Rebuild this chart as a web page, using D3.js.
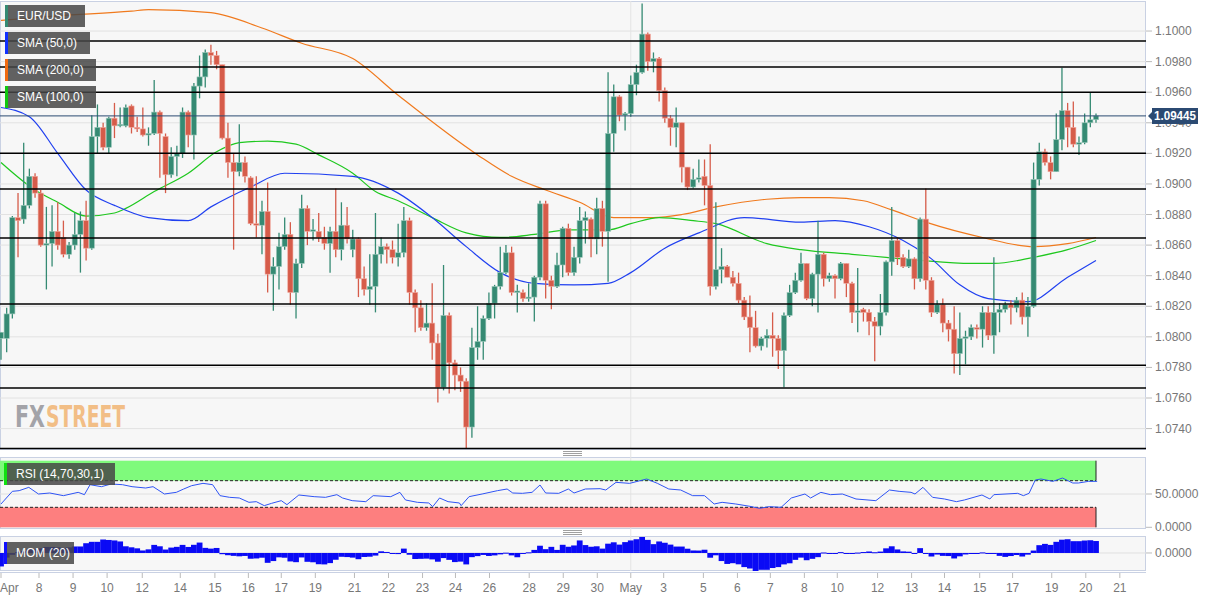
<!DOCTYPE html>
<html><head><meta charset="utf-8">
<script src="https://cdn.jsdelivr.net/npm/d3@7"></script>
<style>body{margin:0;background:#fff;}svg{display:block;font-family:"Liberation Sans",Arial,sans-serif;}</style>
</head><body><svg id="chart" width="1217" height="600"></svg>
<script>
// 4h candles EUR/USD: [open, high, low, close]
const ohlc = [
[1.0799,1.0803,1.0785,1.0803],[1.0799,1.0819,1.0790,1.0815],[1.0815,1.0879,1.0812,1.0878],[1.0878,1.0894,1.0852,1.0876],
[1.0877,1.0927,1.0874,1.0886],[1.0886,1.0910,1.0884,1.0905],[1.0905,1.0907,1.0891,1.0894],[1.0894,1.0896,1.0859,1.0860],
[1.0860,1.0885,1.0831,1.0861],[1.0861,1.0886,1.0846,1.0869],[1.0869,1.0888,1.0857,1.0860],[1.0865,1.0876,1.0852,1.0854],
[1.0854,1.0862,1.0851,1.0860],[1.0860,1.0881,1.0857,1.0867],[1.0867,1.0882,1.0842,1.0876],[1.0876,1.0889,1.0850,1.0858],
[1.0858,1.0945,1.0857,1.0931],[1.0931,1.0952,1.0920,1.0937],[1.0937,1.0940,1.0922,1.0924],[1.0924,1.0944,1.0920,1.0943],
[1.0943,1.0953,1.0930,1.0938],[1.0938,1.0950,1.0937,1.0939],[1.0938,1.0952,1.0937,1.0950],[1.0951,1.0952,1.0933,1.0937],
[1.0937,1.0944,1.0934,1.0936],[1.0936,1.0950,1.0931,1.0932],[1.0932,1.0937,1.0925,1.0933],[1.0933,1.0968,1.0932,1.0947],
[1.0947,1.0948,1.0904,1.0933],[1.0931,1.0933,1.0894,1.0906],[1.0906,1.0924,1.0904,1.0918],[1.0918,1.0925,1.0905,1.0920],
[1.0920,1.0950,1.0917,1.0947],[1.0947,1.0948,1.0924,1.0932],[1.0932,1.0966,1.0916,1.0964],[1.0964,1.0984,1.0956,1.0970],
[1.0970,1.0988,1.0963,1.0986],[1.0986,1.0991,1.0978,1.0984],[1.0984,1.0987,1.0975,1.0978],[1.0978,1.0978,1.0929,1.0930],
[1.0930,1.0940,1.0904,1.0914],[1.0914,1.0920,1.0857,1.0908],[1.0908,1.0939,1.0905,1.0914],[1.0914,1.0918,1.0901,1.0905],
[1.0904,1.0905,1.0873,1.0874],[1.0874,1.0905,1.0865,1.0873],[1.0873,1.0889,1.0854,1.0882],[1.0882,1.0901,1.0829,1.0841],
[1.0841,1.0852,1.0817,1.0846],[1.0846,1.0868,1.0831,1.0859],[1.0859,1.0878,1.0857,1.0867],[1.0867,1.0875,1.0821,1.0829],
[1.0829,1.0851,1.0812,1.0848],[1.0848,1.0893,1.0845,1.0884],[1.0884,1.0886,1.0860,1.0869],[1.0869,1.0877,1.0863,1.0870],
[1.0869,1.0881,1.0862,1.0865],[1.0865,1.0872,1.0857,1.0861],[1.0861,1.0872,1.0842,1.0869],[1.0869,1.0897,1.0852,1.0857],
[1.0857,1.0888,1.0850,1.0873],[1.0873,1.0885,1.0861,1.0864],[1.0857,1.0870,1.0852,1.0864],[1.0864,1.0865,1.0826,1.0838],
[1.0838,1.0846,1.0827,1.0831],[1.0831,1.0854,1.0821,1.0833],[1.0833,1.0881,1.0816,1.0854],[1.0854,1.0865,1.0848,1.0859],
[1.0859,1.0861,1.0848,1.0857],[1.0857,1.0863,1.0848,1.0852],[1.0852,1.0874,1.0846,1.0855],[1.0855,1.0885,1.0852,1.0876],
[1.0876,1.0878,1.0821,1.0829],[1.0829,1.0831,1.0803,1.0819],[1.0819,1.0824,1.0804,1.0806],[1.0806,1.0822,1.0804,1.0809],
[1.0809,1.0835,1.0785,1.0796],[1.0796,1.0802,1.0757,1.0767],[1.0767,1.0847,1.0765,1.0814],[1.0814,1.0816,1.0763,1.0783],
[1.0783,1.0785,1.0765,1.0775],[1.0775,1.0780,1.0764,1.0771],[1.0771,1.0773,1.0727,1.0741],[1.0741,1.0806,1.0734,1.0793],
[1.0793,1.0820,1.0785,1.0797],[1.0797,1.0814,1.0785,1.0812],[1.0812,1.0829,1.0811,1.0822],[1.0822,1.0834,1.0812,1.0833],
[1.0833,1.0859,1.0831,1.0842],[1.0842,1.0860,1.0841,1.0855],[1.0855,1.0859,1.0827,1.0829],[1.0829,1.0834,1.0816,1.0830],
[1.0829,1.0831,1.0823,1.0825],[1.0825,1.0835,1.0823,1.0826],[1.0826,1.0840,1.0810,1.0839],[1.0839,1.0889,1.0837,1.0887],
[1.0887,1.0889,1.0825,1.0837],[1.0837,1.0840,1.0818,1.0833],[1.0833,1.0855,1.0832,1.0847],[1.0847,1.0872,1.0839,1.0871],
[1.0871,1.0874,1.0840,1.0842],[1.0842,1.0859,1.0840,1.0852],[1.0852,1.0885,1.0848,1.0876],[1.0876,1.0882,1.0861,1.0878],
[1.0877,1.0878,1.0852,1.0864],[1.0864,1.0891,1.0854,1.0884],[1.0884,1.0889,1.0859,1.0869],[1.0869,1.0973,1.0836,1.0933],
[1.0933,1.0965,1.0921,1.0957],[1.0957,1.0958,1.0941,1.0945],[1.0945,1.0947,1.0935,1.0946],[1.0946,1.0971,1.0944,1.0965],
[1.0965,1.0978,1.0958,1.0973],[1.0973,1.1018,1.0972,1.0998],[1.0998,1.0999,1.0974,1.0980],[1.0980,1.0986,1.0973,1.0982],
[1.0982,1.0983,1.0954,1.0961],[1.0961,1.0963,1.0940,1.0943],[1.0943,1.0945,1.0925,1.0937],[1.0937,1.0950,1.0924,1.0940],
[1.0940,1.0940,1.0901,1.0911],[1.0911,1.0911,1.0896,1.0898],[1.0898,1.0910,1.0897,1.0903],[1.0903,1.0916,1.0901,1.0904],
[1.0905,1.0916,1.0886,1.0899],[1.0899,1.0926,1.0827,1.0833],[1.0833,1.0888,1.0831,1.0844],[1.0844,1.0858,1.0835,1.0846],
[1.0846,1.0847,1.0839,1.0839],[1.0839,1.0843,1.0833,1.0835],[1.0835,1.0842,1.0822,1.0824],[1.0824,1.0826,1.0811,1.0813],
[1.0813,1.0827,1.0790,1.0806],[1.0806,1.0817,1.0793,1.0794],[1.0794,1.0800,1.0791,1.0799],[1.0799,1.0805,1.0793,1.0801],
[1.0801,1.0816,1.0787,1.0799],[1.0799,1.0801,1.0779,1.0791],[1.0791,1.0816,1.0767,1.0814],[1.0814,1.0834,1.0813,1.0829],
[1.0829,1.0842,1.0828,1.0837],[1.0837,1.0855,1.0836,1.0848],[1.0848,1.0848,1.0824,1.0825],[1.0825,1.0842,1.0820,1.0841],
[1.0841,1.0876,1.0816,1.0854],[1.0854,1.0855,1.0833,1.0838],[1.0838,1.0842,1.0836,1.0840],[1.0840,1.0841,1.0825,1.0838],
[1.0838,1.0849,1.0837,1.0848],[1.0848,1.0848,1.0826,1.0835],[1.0835,1.0836,1.0809,1.0816],[1.0816,1.0845,1.0803,1.0817],
[1.0818,1.0819,1.0810,1.0816],[1.0816,1.0818,1.0801,1.0810],[1.0810,1.0813,1.0784,1.0807],[1.0807,1.0828,1.0801,1.0816],
[1.0816,1.0850,1.0814,1.0849],[1.0849,1.0885,1.0840,1.0863],[1.0863,1.0865,1.0847,1.0852],[1.0852,1.0854,1.0845,1.0846],
[1.0846,1.0857,1.0845,1.0851],[1.0851,1.0852,1.0831,1.0838],[1.0838,1.0878,1.0836,1.0877],[1.0877,1.0897,1.0831,1.0837],
[1.0837,1.0839,1.0813,1.0816],[1.0816,1.0824,1.0815,1.0821],[1.0821,1.0825,1.0803,1.0809],[1.0809,1.0811,1.0797,1.0805],
[1.0805,1.0820,1.0776,1.0789],[1.0789,1.0816,1.0775,1.0799],[1.0799,1.0804,1.0782,1.0800],[1.0800,1.0808,1.0798,1.0806],
[1.0806,1.0808,1.0799,1.0805],[1.0805,1.0820,1.0793,1.0816],[1.0816,1.0820,1.0798,1.0801],[1.0801,1.0852,1.0789,1.0816],
[1.0816,1.0822,1.0803,1.0818],[1.0818,1.0823,1.0816,1.0821],[1.0821,1.0824,1.0808,1.0819],[1.0819,1.0826,1.0816,1.0824],
[1.0824,1.0829,1.0808,1.0813],[1.0813,1.0826,1.0800,1.0820],[1.0820,1.0914,1.0819,1.0903],[1.0903,1.0927,1.0899,1.0921],
[1.0921,1.0923,1.0912,1.0914],[1.0914,1.0918,1.0903,1.0908],[1.0908,1.0946,1.0908,1.0929],[1.0929,1.0976,1.0922,1.0948],
[1.0948,1.0953,1.0924,1.0937],[1.0937,1.0954,1.0924,1.0926],[1.0926,1.0931,1.0919,1.0927],[1.0927,1.0946,1.0926,1.0940],
[1.0940,1.0960,1.0937,1.0942],[1.0942,1.0946,1.0940,1.09445]
];
// moving averages: [candle index, value]
const sma200 = [[0,1.1007],[10,1.1010],[23,1.1013],[26,1.1014],[37,1.1012],[46,1.1002],[53,1.0992],[62,1.0982],[70,1.0958],[84,1.0919],[90,1.0905],[96,1.0896],[102,1.0888],[108,1.0878],[115,1.0878],[120,1.0880],[126,1.0885],[135,1.0890],[141,1.0891],[146,1.0891],[152,1.0889],[157,1.0883],[163,1.0875],[173,1.0865],[182,1.0859],[188,1.0861],[193,1.0865]];
const sma50 = [[0,1.0950],[5,1.0944],[10,1.0920],[15,1.0896],[20,1.0886],[26,1.0878],[33,1.0876],[37,1.0885],[44,1.0898],[50,1.0907],[62,1.0905],[70,1.0894],[76,1.0878],[82,1.0859],[88,1.0842],[94,1.0835],[101,1.0834],[107,1.0835],[111,1.0842],[117,1.0858],[123,1.0868],[131,1.0878],[141,1.0875],[147,1.0876],[153,1.0872],[159,1.0863],[164,1.0851],[169,1.0834],[174,1.0825],[181,1.0823],[188,1.0839],[193,1.0850]];
const sma100 = [[0,1.0914],[6,1.0896],[10,1.0888],[15,1.0879],[20,1.0881],[22,1.0884],[27,1.0895],[33,1.0907],[38,1.0921],[42,1.0927],[47,1.0928],[52,1.0926],[56,1.0919],[62,1.0907],[66,1.0895],[70,1.0889],[76,1.0878],[82,1.0868],[88,1.0865],[94,1.0867],[100,1.0870],[107,1.0870],[111,1.0874],[116,1.0878],[122,1.0876],[126,1.0874],[135,1.0861],[141,1.0857],[150,1.0854],[156,1.0852],[162,1.0850],[171,1.0848],[175,1.0848],[182,1.0852],[188,1.0857],[193,1.0863]];
// RSI(14): [candle index, value]
const rsi = [[0,35],[2,54],[3.2,55],[4.9,60],[6.6,50],[8.6,51.5],[11,47.5],[13.6,52.5],[14.7,49],[15.7,64],[17.7,61],[19.4,65],[21.4,64],[23.1,61],[25.5,59],[26.8,61],[28.8,50],[30.9,52.5],[32.2,57.5],[33.6,62.5],[35.6,66],[37.3,64],[38.6,47.5],[40.3,45],[42,44],[43.7,37.5],[45,38.5],[46.4,32.5],[47.7,36],[49.4,40],[50.4,34],[52.5,48.5],[55.2,46],[57.2,45],[59.2,49],[60.2,44],[61.9,40],[64.3,38.5],[65.6,47.5],[68.7,46],[70.3,52.5],[71.3,41],[73.4,37.5],[75.4,36.5],[76.1,31],[77.3,44],[78.8,38.5],[80.8,36.5],[81.1,32.5],[82.5,46],[84.8,50],[87.5,55],[89.2,57.5],[90.2,51.5],[91.9,51],[93.6,52.5],[95,63.5],[96,51.5],[98.3,51],[100,57.5],[101,51.5],[103,57.5],[105.6,58],[106.6,56],[108.4,67.5],[110.8,66],[113.8,72.5],[115.7,66],[117.7,57.5],[119.8,56],[121.9,47.5],[124,47.5],[125.7,35],[127.1,37.5],[129.5,35],[132,31.5],[133.7,28.5],[135.4,31],[137.5,30],[139.3,44],[141.7,50],[142.7,44],[144.5,52.5],[146.2,49],[148.3,50],[150.7,42.5],[154.2,40],[156.6,56],[158.3,54],[160.4,52.5],[161.1,50],[162.5,60],[164.2,45],[166.3,42.5],[168.4,38.5],[169.8,41],[172.9,48.5],[174.3,42.5],[175,49],[179.2,51],[180.2,47.5],[181.2,51],[182.3,71],[183.3,72.5],[185.4,69],[187.1,74],[188.9,66.5],[189.9,66.5],[191.7,69],[193.2,69]];
// momentum of the first 20 candles (earlier closes are off chart)
const momHead = [-0.0145,-0.005,-0.002,0.001,0.002,0.004,0.004,0.005,0.0065,0.0065,0.006,0.0055,0.006,0.007,0.007,0.0105,0.012,0.012,0.0145,0.014];
const levels = [1.09935,1.09765,1.0960,1.0920,1.08967,1.08647,1.08215,1.07815,1.07665,1.0727];
const lastPrice = 1.09445;
const priceTicks = d3.range(1.074, 1.1001, 0.002);
const dayLabels = ['Apr','8','9','10','12','14','15','16','17','19','21','22','23','24','26','28','29','30','May','3','5','6','7','8','10','12','13','14','15','17','19','20','21'];
const dayIdx = [0,6.7,12.7,18.7,24.9,31.6,37.7,43.6,49.4,55.4,62.3,68.3,74.3,80.1,86.1,93.1,99.1,105.1,111,116.8,123.8,129.8,135.6,141.6,147.4,154.5,160.5,166.3,172.5,178.3,185.2,191.2,197.2];

const svg = d3.select('#chart');
const W = 1146;
const main = {top: 1, bottom: 450};
const rsiP = {top: 457, bottom: 529};
const momP = {top: 536, bottom: 571};
const green = '#358a73', red = '#d65c4a';

const x = d3.scaleLinear().domain([0, 193]).range([1, 1096]);
const y = d3.scaleLinear().domain([1.0726, 1.10203]).range([main.bottom, 0]);
const yR = d3.scaleLinear().domain([0, 100]).range([527.3, 460.7]);
const yM = d3.scaleLinear().domain([-0.0194, 0.0172]).range([571, 537]);

const defs = svg.append('defs');
[['cMain', main], ['cRsi', rsiP], ['cMom', momP]].forEach(([id, p]) => {
  defs.append('clipPath').attr('id', id).append('rect')
    .attr('x', 0).attr('y', p.top).attr('width', W).attr('height', p.bottom - p.top);
});

// panels
[main, rsiP, momP].forEach(p => {
  svg.append('rect').attr('x', 0.5).attr('y', p.top + 0.5).attr('width', W - 1).attr('height', p.bottom - p.top - 1)
    .attr('fill', '#f7f7f7').attr('stroke', '#c9d1e3');
});

// grid
svg.append('g').selectAll('line').data(priceTicks).join('line')
  .attr('x1', 0).attr('x2', W).attr('y1', d => y(d)).attr('y2', d => y(d))
  .attr('stroke', '#e2e2e2');
svg.append('line').attr('x1', x(dayIdx[18])).attr('x2', x(dayIdx[18]))
  .attr('y1', main.top).attr('y2', momP.bottom).attr('stroke', '#e4e4e4');

// watermark
svg.append('text').attr('x', 15).attr('y', 427).attr('font-size', 31).attr('font-weight', 'bold')
  .attr('font-family', '"DejaVu Sans Condensed",sans-serif').attr('fill', '#a3a3a8')
  .attr('textLength', 30).attr('lengthAdjust', 'spacingAndGlyphs').text('FX');
svg.append('text').attr('x', 46).attr('y', 427).attr('font-size', 31).attr('font-weight', 'bold')
  .attr('font-family', '"DejaVu Sans Condensed",sans-serif').attr('fill', '#f2be86')
  .attr('textLength', 79).attr('lengthAdjust', 'spacingAndGlyphs').text('STREET');

const g = svg.append('g').attr('clip-path', 'url(#cMain)');

// moving averages
const line = d3.line().x(d => x(d[0])).y(d => y(d[1])).curve(d3.curveMonotoneX);
[[sma200, '#f07a1e'], [sma100, '#1fc81f'], [sma50, '#2040f0']].forEach(([data, col]) => {
  g.append('path').attr('d', line(data)).attr('fill', 'none').attr('stroke', col).attr('stroke-width', 1.2);
});

// candles
const cg = g.append('g');
cg.selectAll('line').data(ohlc).join('line')
  .attr('x1', (d, i) => x(i)).attr('x2', (d, i) => x(i))
  .attr('y1', d => y(d[1])).attr('y2', d => y(d[2]))
  .attr('stroke', d => d[3] >= d[0] ? green : red).attr('stroke-width', 1.3);
cg.selectAll('rect').data(ohlc).join('rect')
  .attr('x', (d, i) => x(i) - 2.6).attr('width', 5.2)
  .attr('y', d => y(Math.max(d[0], d[3])))
  .attr('height', d => Math.max(1.5, Math.abs(y(d[0]) - y(d[3]))))
  .attr('fill', d => d[3] >= d[0] ? green : red)
  .attr('stroke', d => d[3] >= d[0] ? '#9cc9bb' : '#f0aaa0').attr('stroke-width', 0.6);

// support / resistance levels
g.selectAll('.lvl').data(levels).join('line').attr('class', 'lvl')
  .attr('x1', 0).attr('x2', W).attr('y1', d => y(d)).attr('y2', d => y(d))
  .attr('stroke', '#000').attr('stroke-width', 1.5);
g.append('line').attr('x1', 0).attr('x2', W).attr('y1', y(lastPrice)).attr('y2', y(lastPrice))
  .attr('stroke', '#2b4a72').attr('stroke-width', 1);

// price axis
const ax = svg.append('g').attr('font-size', 12).attr('fill', '#777');
priceTicks.forEach(t => {
  ax.append('line').attr('x1', W).attr('x2', W + 6).attr('y1', y(t)).attr('y2', y(t)).attr('stroke', '#bbb');
  ax.append('text').attr('x', W + 9).attr('y', y(t) + 4).text(t.toFixed(4));
});
const pl = svg.append('g').attr('transform', `translate(${W + 2},${y(lastPrice)})`);
pl.append('path').attr('d', 'M0,0 L4,-4 L4,-8 L50,-8 L50,8 L4,8 L4,4 Z').attr('fill', '#2b4a72');
pl.append('text').attr('x', 6).attr('y', 4.5).attr('fill', '#fff').attr('font-size', 12).attr('font-weight', 'bold')
  .attr('textLength', 42).attr('lengthAdjust', 'spacingAndGlyphs').text(lastPrice.toFixed(5));

// RSI panel
const rg = svg.append('g').attr('clip-path', 'url(#cRsi)');
const xEnd = x(ohlc.length - 1);
rg.append('rect').attr('x', 0).attr('width', xEnd).attr('y', yR(100)).attr('height', yR(70) - yR(100)).attr('fill', '#7ffa7c');
rg.append('rect').attr('x', 0).attr('width', xEnd).attr('y', yR(30)).attr('height', yR(0) - yR(30)).attr('fill', '#fd7f7f');
[70, 30].forEach(v => rg.append('line').attr('x1', 0).attr('x2', xEnd).attr('y1', yR(v)).attr('y2', yR(v))
  .attr('stroke', '#222').attr('stroke-dasharray', '3,2'));
rg.append('line').attr('x1', 0).attr('x2', W).attr('y1', yR(50)).attr('y2', yR(50)).attr('stroke', '#e0e0e0');
rg.append('line').attr('x1', xEnd).attr('x2', xEnd).attr('y1', yR(100)).attr('y2', yR(70)).attr('stroke', '#222');
rg.append('line').attr('x1', xEnd).attr('x2', xEnd).attr('y1', yR(30)).attr('y2', yR(0)).attr('stroke', '#222');
rg.append('path').attr('d', d3.line().x(d => x(d[0])).y(d => yR(d[1]))(rsi))
  .attr('fill', 'none').attr('stroke', '#2f54f5').attr('stroke-width', 1);
[50, 0].forEach(v => {
  ax.append('line').attr('x1', W).attr('x2', W + 6).attr('y1', yR(v)).attr('y2', yR(v)).attr('stroke', '#bbb');
  ax.append('text').attr('x', W + 9).attr('y', yR(v) + 4).text(v.toFixed(4));
});

// MOM panel
const closes = ohlc.map(d => d[3]);
const mom = closes.map((c, i) => i < 20 ? momHead[i] : c - closes[i - 20]);
const mg = svg.append('g').attr('clip-path', 'url(#cMom)');
mg.append('line').attr('x1', 0).attr('x2', W).attr('y1', yM(0)).attr('y2', yM(0)).attr('stroke', '#e0e0e0');
mg.selectAll('rect').data(mom).join('rect')
  .attr('x', (d, i) => x(i) - 2.9).attr('width', 5.8)
  .attr('y', d => yM(Math.max(0, d))).attr('height', d => Math.max(1, Math.abs(yM(d) - yM(0))))
  .attr('fill', '#0a0af5');
ax.append('line').attr('x1', W).attr('x2', W + 6).attr('y1', yM(0)).attr('y2', yM(0)).attr('stroke', '#bbb');
ax.append('text').attr('x', W + 9).attr('y', yM(0) + 4).text((0).toFixed(4));

// panel handles
[453.5, 532.5].forEach(hy => [0, 2, 4].forEach(o => svg.append('line')
  .attr('x1', 563).attr('x2', 582).attr('y1', hy - 2 + o).attr('y2', hy - 2 + o).attr('stroke', '#888').attr('stroke-width', 0.8)));

// date axis
svg.append('line').attr('x1', 0).attr('x2', W).attr('y1', 572.5).attr('y2', 572.5).attr('stroke', '#c9d1e3');
const da = svg.append('g').attr('font-size', 12).attr('fill', '#777');
dayLabels.forEach((lab, i) => {
  const xx = x(dayIdx[i]);
  da.append('line').attr('x1', xx).attr('x2', xx).attr('y1', 573).attr('y2', 578).attr('stroke', '#bbb');
  da.append('text').attr('x', i === 0 ? 0 : xx).attr('y', 592).attr('text-anchor', i === 0 ? 'start' : 'middle').text(lab);
});

// legend boxes
const legends = [
  {t: 'EUR/USD', c: '#358a73', x: 5, y: 5, w: 80},
  {t: 'SMA (50,0)', c: '#1030ff', x: 5, y: 32, w: 85},
  {t: 'SMA (200,0)', c: '#f06a10', x: 5, y: 59, w: 91},
  {t: 'SMA (100,0)', c: '#10c810', x: 5, y: 86, w: 91},
  {t: 'RSI (14,70,30,1)', c: '#10e010', x: 4, y: 463, w: 111},
  {t: 'MOM (20)', c: '#1010ff', x: 4, y: 542, w: 70}
];
legends.forEach(l => {
  svg.append('rect').attr('x', l.x).attr('y', l.y).attr('width', l.w).attr('height', 22).attr('fill', 'rgba(70,70,70,0.85)');
  svg.append('rect').attr('x', l.x).attr('y', l.y).attr('width', 3).attr('height', 22).attr('fill', l.c);
  svg.append('text').attr('x', l.x + 12).attr('y', l.y + 15).attr('fill', '#fff').attr('font-size', 12).text(l.t);
});
</script></body></html>
